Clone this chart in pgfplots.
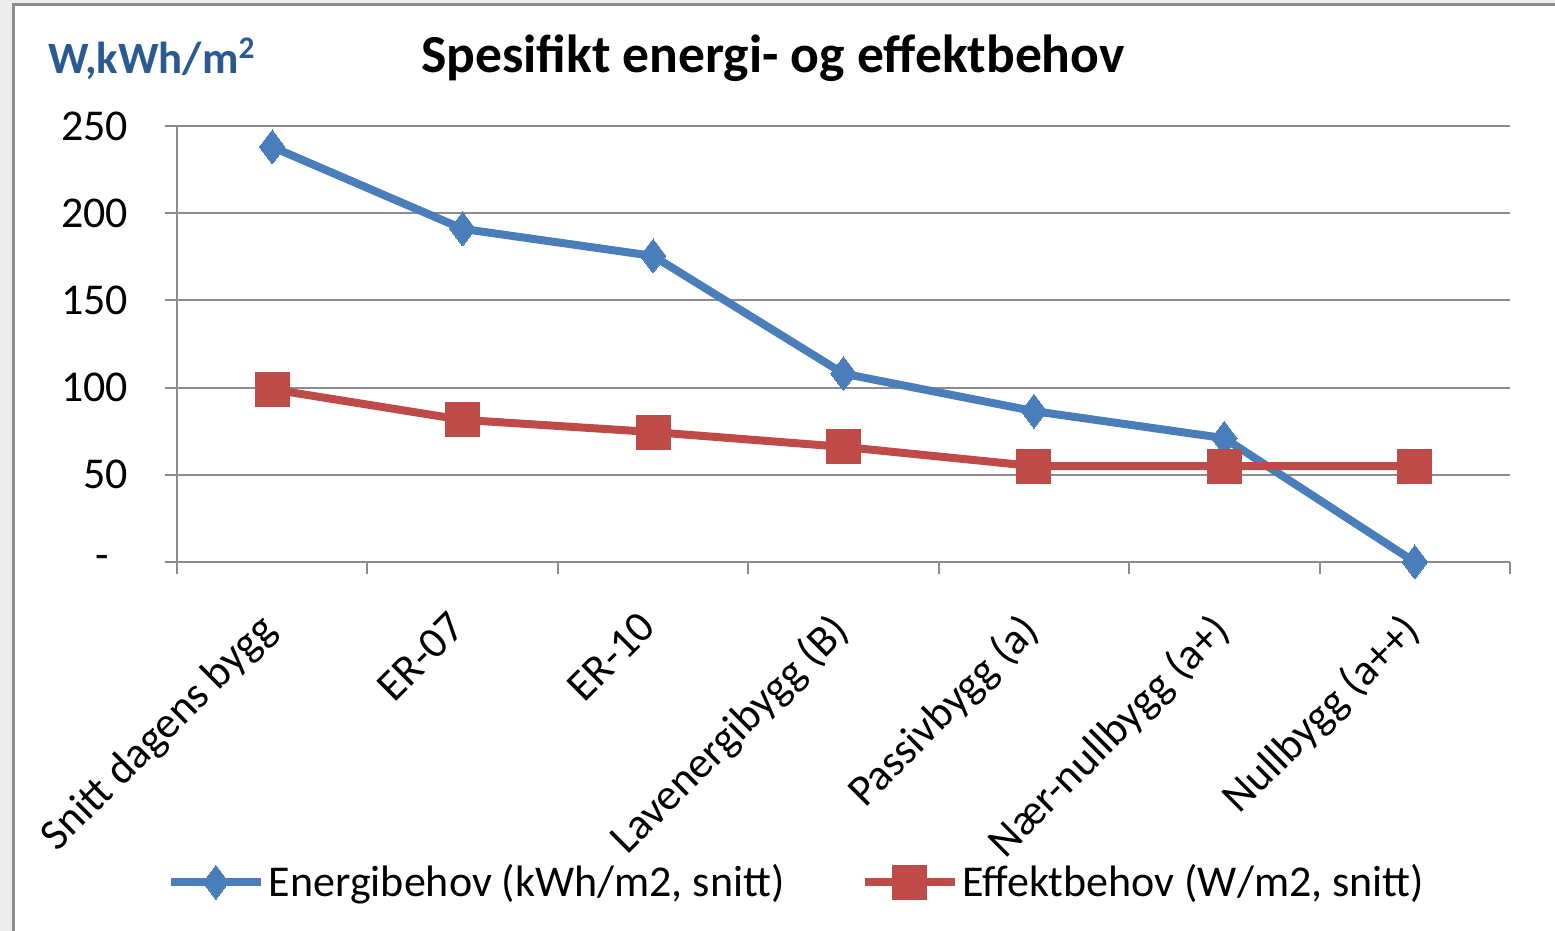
\documentclass[border=0pt]{standalone}
\usepackage{pgfplots}
\pgfplotsset{compat=1.18}
\usepackage{fontspec}
\setmainfont{Carlito}
\definecolor{eblue}{HTML}{4A7EBB}
\definecolor{ered}{HTML}{BE4B48}
\definecolor{gridc}{HTML}{8C8C8C}
\definecolor{ylab}{HTML}{2A5A92}
\begin{document}
\begin{tikzpicture}[x=1pt,y=1pt]
\fill[black!7] (0,0) rectangle (777.5,465.5);
\fill[white] (6.5,0) rectangle (777.5,463);
\draw[gridc,line width=1.5pt] (6.5,0) -- (6.5,463) -- (777.5,463);
\begin{axis}[
  at={(88.5pt,184.5pt)}, anchor=south west,
  scale only axis, width=666.5pt, height=218pt,
  xmin=-0.5, xmax=6.5, ymin=0, ymax=250,
  axis x line=bottom, axis y line=left,
  axis line style={gridc, line width=1pt, -},
  xtick={0,...,6},
  xticklabels={Snitt dagens bygg,ER-07,ER-10,Lavenergibygg (B),Passivbygg (a),Nær-nullbygg (a+),Nullbygg (a++)},
  minor xtick={-0.5,0.5,...,6.5},
  major x tick style={draw=none},
  minor tick length=6pt,
  tick align=outside,
  tick style={gridc, line width=1pt},
  ytick={0,50,...,250},
  yticklabels={-\kern9.5pt,50,100,150,200,250},
  major tick length=6pt,
  ymajorgrids, grid style={gridc, line width=1pt},
  x tick label style={rotate=45, anchor=north east, font=\fontsize{22}{26}\selectfont, inner sep=2pt, xshift=-16pt, yshift=-5pt},
  y tick label style={font=\fontsize{22}{26}\selectfont, xshift=-15pt},
  /pgf/number format/assume math mode=true,
  clip=false,
  legend style={at={(0.5,-0.675)}, anchor=north, xshift=-23pt, draw=none, fill=none, legend columns=2,
    font=\fontsize{22}{26}\selectfont, /tikz/every even column/.append style={column sep=36pt}},
  legend image code/.code={\draw[#1] (0pt,0pt) -- (45pt,0pt); \draw[#1, mark repeat=2, mark phase=2] plot coordinates {(0pt,0pt) (22.5pt,0pt) (45pt,0pt)};},
]
\addplot[eblue, line width=4pt, mark=diamond*, mark size=8.5pt, mark options={line width=0pt}] coordinates {
 (0,238) (1,191) (2,175.5) (3,108) (4,86.5) (5,71) (6,0)};
\addlegendentry{Energibehov (kWh/m2, snitt)}
\addplot[ered, line width=4pt, mark=square*, mark size=8.5pt, mark options={line width=0pt}] coordinates {
 (0,99) (1,81.5) (2,74.5) (3,66) (4,55) (5,55) (6,55)};
\addlegendentry{Effektbehov (W/m2, snitt)}
\end{axis}
\node[anchor=center, font=\fontsize{22.4}{25}\selectfont\bfseries, text=ylab, inner sep=0pt] at (76,436) {W,kWh/m\textsuperscript{2}};
\node[anchor=center, font=\fontsize{26.8}{30}\selectfont\bfseries, inner sep=0pt] at (386.5,436.5) {Spesifikt energi- og effektbehov};
\pgfresetboundingbox
\path[use as bounding box] (0,0) rectangle (777.5,465.5);
\end{tikzpicture}
\end{document}
